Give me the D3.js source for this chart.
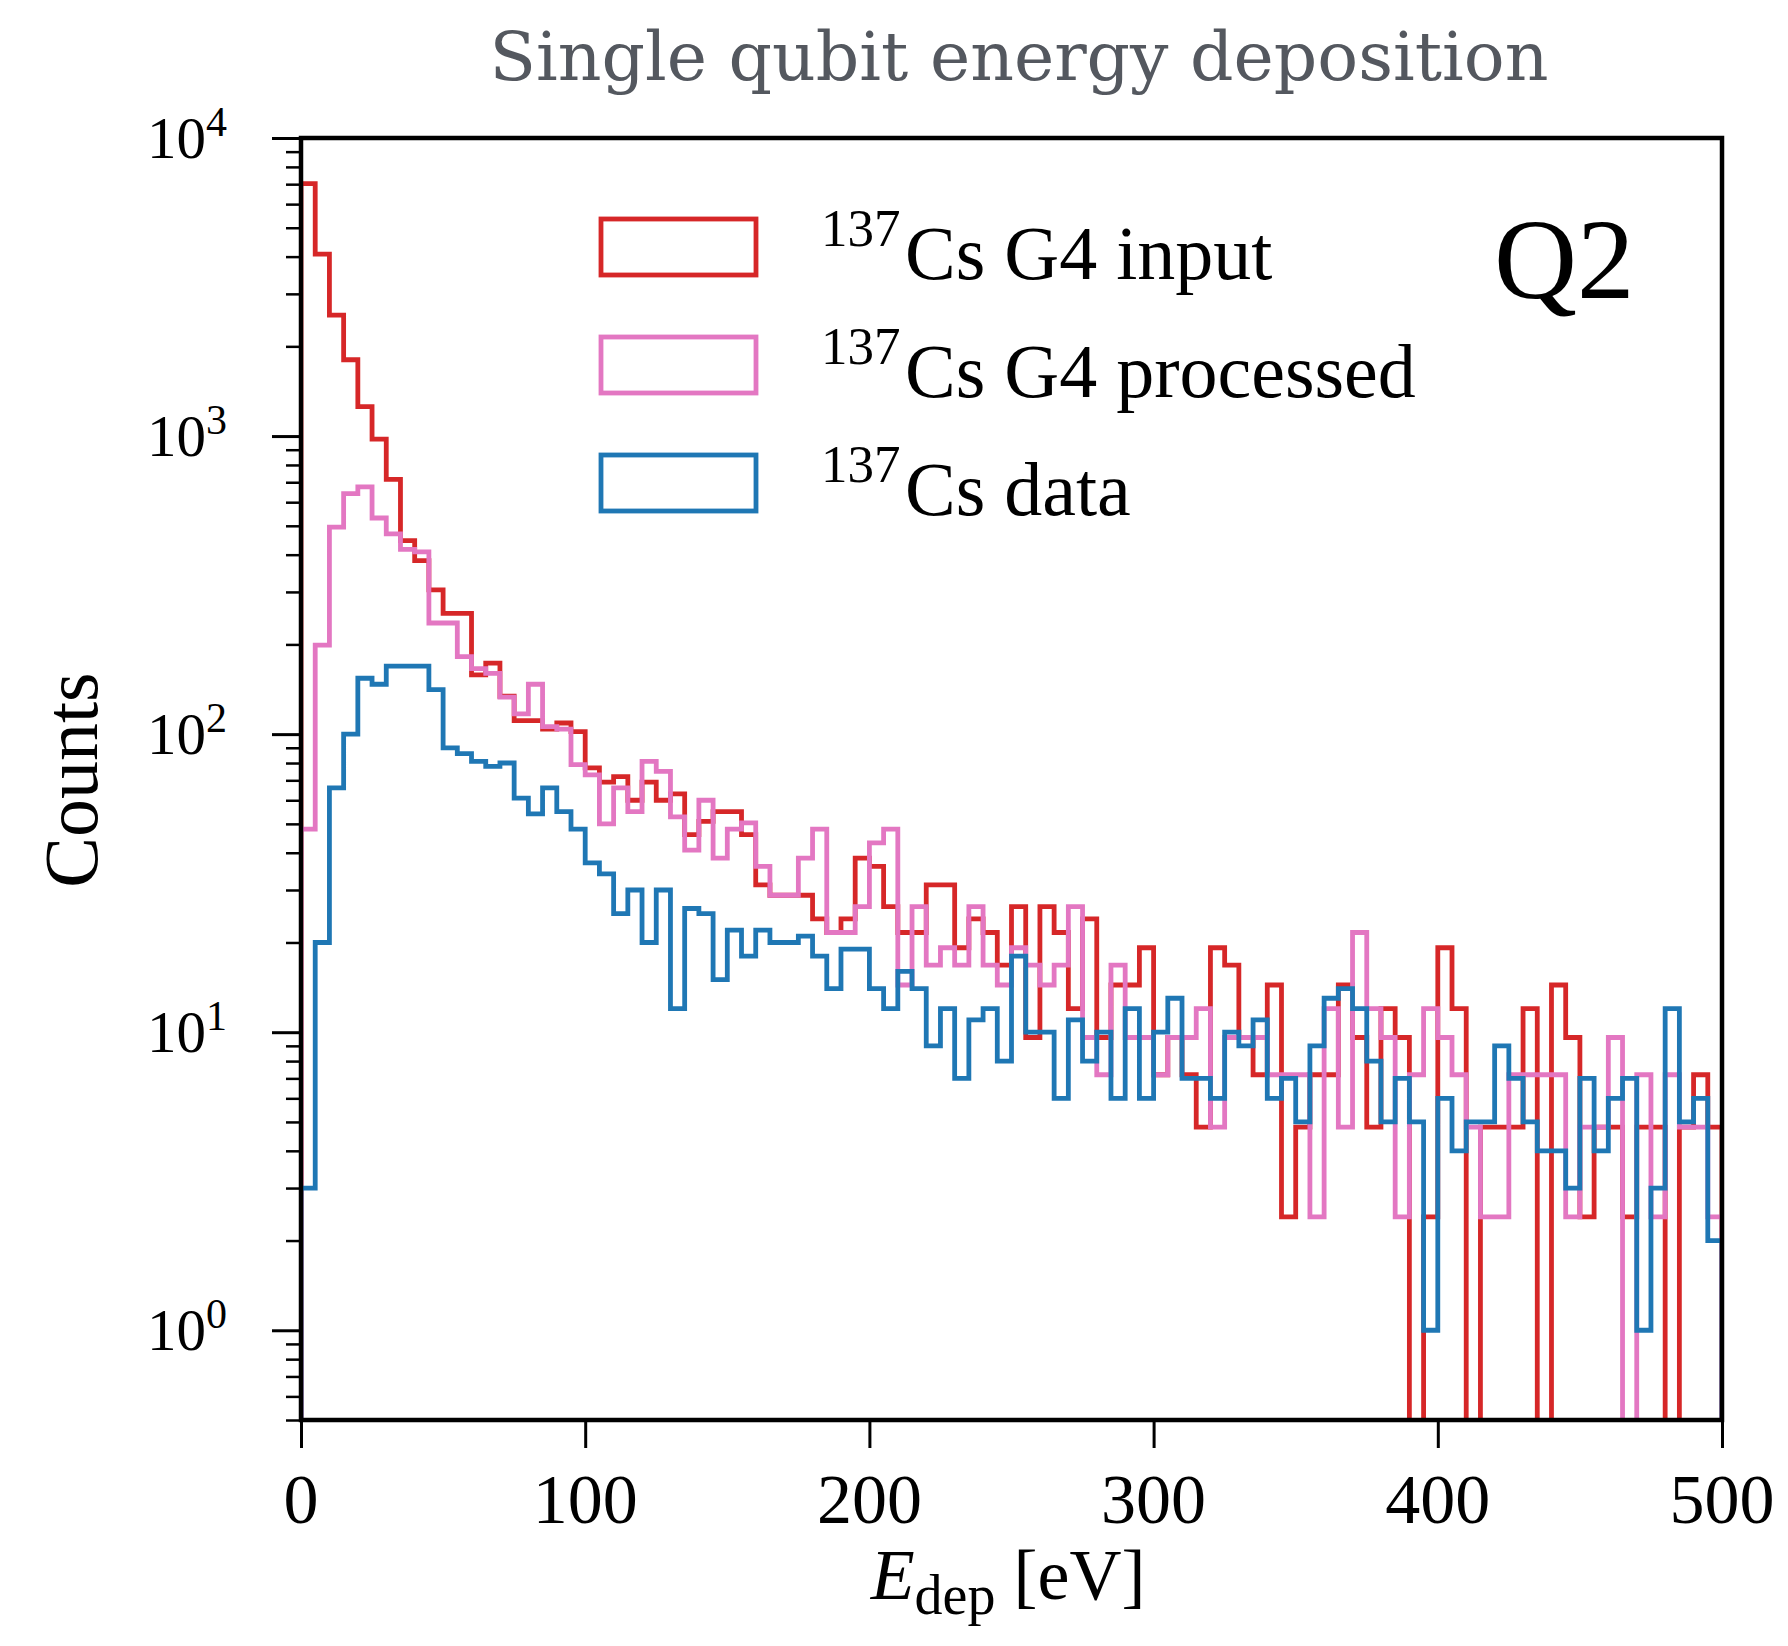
<!DOCTYPE html>
<html><head><meta charset="utf-8">
<script src="https://cdn.jsdelivr.net/npm/d3@7"></script>
<style>body{margin:0;background:#fff} svg{display:block}</style>
</head><body>
<svg id="chart" width="1788" height="1646"></svg>
<script>
// ---- data (5 eV bins from 0 to 500 eV) ----
const binWidth = 5;
const binEdges = d3.range(0, 500, binWidth);
const g4Input = [
 7030,4080,2545,1803,1255,976,716,446,382,305,
 254,254,158,173,134,111,111,104,109,102,
 77,69,72,60,69,60,63,46,51,55,
 55,46,31.2,28.8,28.8,28.8,24,21.6,24,38.4,
 36,26.4,21.6,21.6,31.2,31.2,19.2,24,21.6,16.8,
 26.4,9.6,26.4,21.6,12,24,9.6,14.4,14.4,19.2,
 7.2,9.6,7.2,4.8,19.2,16.8,9.6,7.2,14.4,2.4,
 4.8,7.2,7.2,14.4,9.6,4.8,12,9.6,0,2.4,
 19.2,12,0,4.8,4.8,4.8,12,0,14.4,9.6,
 2.4,4.8,4.8,2.4,4.8,4.8,0,4.8,7.2,4.8];
const g4Processed = [
 48,199,495,641,675,531,470,417,409,236,
 236,182,166,160,133,117,147,106,104,79,
 73,50,66,55,81,75,52.8,40.8,60,38.4,
 48,50.4,36,28.8,28.8,38.4,48,21.6,21.6,26.4,
 43.2,48,14.4,26.4,16.8,19.2,16.8,26.4,16.8,14.4,
 19.2,16.8,14.4,16.8,26.4,9.6,7.2,16.8,9.6,9.6,
 7.2,9.6,9.6,12,4.8,9.6,9.6,9.6,7.2,7.2,
 7.2,2.4,12,4.8,21.6,12,9.6,2.4,7.2,12,
 9.6,7.2,4.8,2.4,2.4,7.2,7.2,7.2,7.2,2.4,
 4.8,4.8,9.6,0,7.2,2.4,7.2,4.8,4.8,2.4];
const dataCounts = [
 3,20,66,100,154,147,169,169,169,141,
 90,86,81,78,80,61,54,66,55,48,
 37,34,25,30,20,30,12,26,25,15,
 22,18,22,20,20,21,18,14,19,19,
 14,12,16,14,9,12,7,11,12,8,
 18,10,10,6,11,8,10,6,12,6,
 10,13,7,7,6,10,9,11,6,7,
 5,9,13,14,12,8,5,7,5,1,
 6,4,5,5,9,7,5,4,4,3,
 7,4,6,7,1,3,12,5,6,2];
const seriesLabels = ["Cs G4 input", "Cs G4 processed", "Cs data"];
const seriesColors = ["#d62728", "#e377c2", "#1f77b4"];
const xTicks = [0,100,200,300,400,500];
const yTicks = [1,10,100,1000,10000];
const yTickExp = ["0","1","2","3","4"];

// ---- layout ----
const svg = d3.select("#chart");
const M = {left:301, right:1722, top:138, bottom:1420};
const x = d3.scaleLinear().domain([0,500]).range([M.left, M.right]);
const y = d3.scaleLog().domain([0.5, 1e4]).range([M.bottom, M.top]);
const serif = "'Liberation Serif','Times New Roman',serif";

svg.append("rect").attr("width",1788).attr("height",1646).attr("fill","#fff");

svg.append("defs").append("clipPath").attr("id","plotclip")
  .append("rect").attr("x",M.left).attr("y",M.top)
  .attr("width",M.right-M.left).attr("height",M.bottom-M.top);

function stepPath(vals){
  const yb = M.bottom + 40;
  const pts = [[x(0), yb]];
  vals.forEach((v,i)=>{
    const yy = v > 0 ? y(v) : yb;
    pts.push([x(binEdges[i]), yy]);
    pts.push([x(binEdges[i]+binWidth), yy]);
  });
  pts.push([x(500), yb]);
  return d3.line()(pts);
}

const gPlot = svg.append("g").attr("clip-path","url(#plotclip)");
[g4Input, g4Processed, dataCounts].forEach((vals,k)=>{
  gPlot.append("path").attr("d", stepPath(vals))
    .attr("fill","none").attr("stroke",seriesColors[k])
    .attr("stroke-width",4.8).attr("stroke-linejoin","miter");
});

// ---- axes ----
const minorY = [];
[0.1,1,10,100,1000].forEach(d=>{ for(let k=2;k<=9;k++){ const v=d*k; if(v>=0.5 && v<1e4) minorY.push(v);} });
const yAxisMinor = d3.axisLeft(y).tickValues(minorY).tickSize(15).tickFormat("");
const yAxisMajor = d3.axisLeft(y).tickValues(yTicks).tickSize(29).tickFormat("");
const xAxis = d3.axisBottom(x).tickValues(xTicks).tickSize(28).tickFormat("");
function styleAxis(g, w){
  g.select(".domain").remove();
  g.selectAll(".tick line").attr("stroke","#000").attr("stroke-width",w);
}
svg.append("g").attr("transform",`translate(${M.left},0)`).call(yAxisMinor).call(g=>styleAxis(g,2.5));
svg.append("g").attr("transform",`translate(${M.left},0)`).call(yAxisMajor).call(g=>styleAxis(g,3));
svg.append("g").attr("transform",`translate(0,${M.bottom})`).call(xAxis).call(g=>styleAxis(g,3));

// frame
svg.append("rect").attr("x",M.left).attr("y",M.top)
  .attr("width",M.right-M.left).attr("height",M.bottom-M.top)
  .attr("fill","none").attr("stroke","#000").attr("stroke-width",4.5);

// x tick labels
svg.append("g").selectAll("text").data(xTicks).join("text")
  .attr("x",d=>x(d)).attr("y",1523).attr("text-anchor","middle")
  .attr("font-family",serif).attr("font-size",70).attr("fill","#000")
  .text(d=>d);

// y tick labels 10^n
const yl = svg.append("g").selectAll("text").data(yTicks).join("text")
  .attr("x",227).attr("y",d=>y(d)+20).attr("text-anchor","end")
  .attr("font-family",serif).attr("font-size",59).attr("fill","#000");
yl.append("tspan").text("10");
yl.append("tspan").attr("dy",-22).attr("font-size",42).text((d,i)=>yTickExp[i]);

// axis labels
svg.append("text").attr("transform","translate(97,780) rotate(-90)")
  .attr("text-anchor","middle").attr("font-family",serif).attr("font-size",76)
  .attr("fill","#000").text("Counts");
const xl = svg.append("text").attr("x",1008).attr("y",1599).attr("text-anchor","middle")
  .attr("font-family",serif).attr("font-size",72).attr("fill","#000");
xl.append("tspan").attr("font-style","italic").text("E");
xl.append("tspan").attr("font-size",56).attr("dy",15).text("dep");
xl.append("tspan").attr("dy",-15).text(" [eV]");

// legend
const legBase = [279, 397, 515];
seriesLabels.forEach((lab,k)=>{
  const b = legBase[k];
  svg.append("rect").attr("x",601).attr("y",b-60).attr("width",155).attr("height",56)
    .attr("fill","none").attr("stroke",seriesColors[k]).attr("stroke-width",4.8);
  svg.append("text").attr("x",821).attr("y",b-33).attr("font-family",serif)
    .attr("font-size",53).attr("fill","#000").text("137");
  svg.append("text").attr("x",905).attr("y",b).attr("font-family",serif)
    .attr("font-size",76).attr("fill","#000").text(lab);
});
svg.append("text").attr("x",1494).attr("y",298).attr("font-family",serif)
  .attr("font-size",115).attr("fill","#000").text("Q2");

// title
const title = svg.append("text").attr("x",1019).attr("y",80).attr("text-anchor","middle")
  .attr("font-family","'DejaVu Serif',serif").attr("font-size",70).attr("fill","#54585f")
  .text("Single qubit energy deposition");
const tw = title.node().getComputedTextLength();
title.attr("font-size", 70*1059/tw);
</script>
</body></html>
